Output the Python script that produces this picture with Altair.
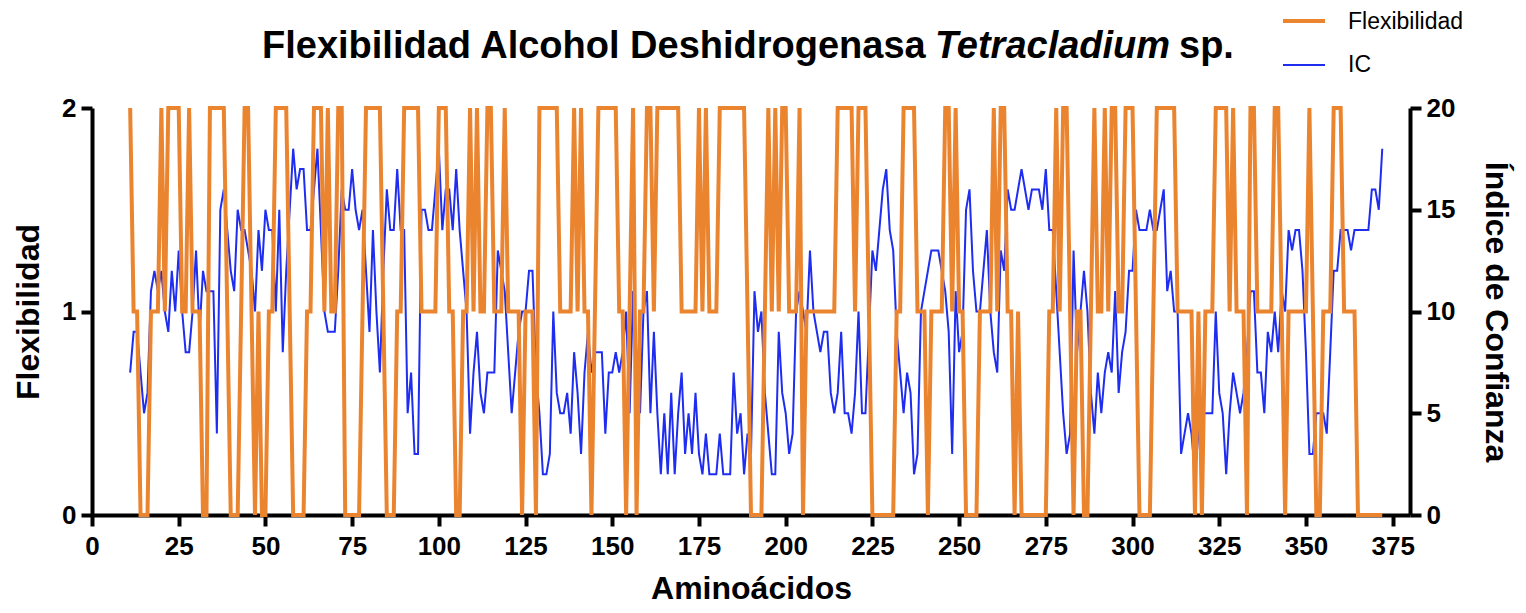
import altair as alt
import pandas as pd

# Amino-acid positions 11..372
aminoacidos = list(range(11, 373))

flexibilidad = [
    2, 1, 1, 0, 0, 0, 1, 1, 1, 2,
    1, 2, 2, 2, 2, 1, 1, 2, 1, 1,
    1, 0, 0, 2, 2, 2, 2, 2, 1, 0,
    0, 0, 1, 2, 2, 1, 0, 1, 0, 0,
    1, 1, 2, 2, 2, 2, 1, 0, 0, 0,
    0, 1, 1, 2, 2, 2, 1, 2, 1, 1,
    2, 2, 0, 0, 0, 0, 0, 1, 2, 2,
    2, 2, 2, 1, 0, 0, 0, 1, 1, 2,
    2, 2, 2, 2, 1, 1, 1, 1, 1, 2,
    2, 2, 1, 1, 0, 0, 1, 1, 2, 1,
    2, 1, 1, 2, 2, 1, 1, 1, 2, 1,
    1, 1, 1, 0, 1, 1, 1, 0, 2, 2,
    2, 2, 2, 2, 1, 1, 1, 1, 2, 1,
    2, 1, 1, 0, 1, 2, 2, 2, 2, 2,
    2, 1, 1, 0, 1, 2, 0, 1, 1, 2,
    2, 1, 2, 2, 2, 2, 2, 2, 2, 1,
    1, 1, 1, 1, 2, 1, 2, 1, 1, 1,
    2, 2, 2, 2, 2, 2, 2, 2, 1, 0,
    0, 0, 0, 1, 2, 1, 2, 1, 2, 2,
    1, 1, 1, 2, 0, 1, 1, 1, 1, 1,
    1, 1, 1, 1, 2, 2, 2, 2, 2, 1,
    2, 2, 2, 1, 0, 0, 0, 0, 0, 0,
    0, 1, 1, 2, 2, 2, 2, 1, 1, 1,
    0, 1, 1, 1, 1, 2, 2, 1, 2, 1,
    1, 0, 0, 0, 0, 1, 1, 1, 1, 2,
    1, 2, 2, 1, 1, 0, 1, 0, 0, 0,
    0, 0, 0, 0, 0, 1, 1, 2, 1, 2,
    2, 1, 0, 1, 1, 0, 0, 1, 2, 1,
    1, 2, 1, 2, 2, 1, 1, 2, 2, 2,
    1, 0, 0, 0, 0, 1, 2, 2, 2, 2,
    2, 2, 1, 1, 1, 1, 1, 0, 1, 0,
    1, 1, 1, 2, 2, 2, 2, 1, 2, 1,
    1, 1, 0, 2, 2, 1, 1, 1, 1, 1,
    2, 2, 1, 0, 1, 1, 1, 1, 1, 1,
    2, 1, 0, 0, 1, 1, 1, 2, 2, 2,
    1, 1, 1, 1, 0, 0, 0, 0, 0, 0,
    0, 0,
]

indice_confianza = [
    7, 9, 9, 7, 5, 6, 11, 12, 11, 12,
    10, 9, 12, 10, 13, 10, 8, 8, 10, 13,
    9, 12, 11, 11, 11, 4, 15, 16, 14, 12,
    11, 15, 14, 14, 13, 12, 10, 14, 12, 15,
    14, 14, 10, 15, 8, 12, 15, 18, 16, 17,
    17, 14, 14, 16, 18, 14, 10, 9, 9, 9,
    12, 16, 15, 15, 17, 15, 14, 15, 12, 9,
    14, 10, 7, 12, 16, 14, 14, 17, 14, 14,
    5, 7, 3, 3, 15, 15, 14, 14, 16, 18,
    14, 16, 16, 14, 17, 14, 12, 10, 4, 7,
    9, 6, 5, 7, 7, 7, 13, 12, 11, 8,
    5, 7, 9, 10, 10, 12, 12, 7, 5, 2,
    2, 3, 10, 6, 5, 5, 6, 4, 8, 6,
    3, 7, 9, 7, 8, 8, 8, 4, 7, 7,
    8, 7, 8, 10, 5, 11, 8, 5, 10, 11,
    5, 9, 5, 2, 5, 2, 6, 2, 5, 7,
    3, 5, 3, 6, 3, 2, 4, 2, 2, 2,
    4, 2, 2, 2, 7, 4, 5, 2, 4, 3,
    11, 9, 10, 6, 4, 2, 2, 9, 6, 5,
    3, 4, 10, 11, 10, 9, 13, 10, 9, 8,
    9, 9, 6, 5, 6, 9, 5, 5, 4, 6,
    10, 5, 5, 9, 13, 12, 14, 16, 17, 14,
    13, 9, 7, 5, 7, 6, 2, 3, 10, 11,
    12, 13, 13, 13, 12, 11, 9, 3, 11, 8,
    9, 15, 16, 12, 10, 10, 12, 14, 10, 8,
    7, 13, 12, 16, 15, 15, 16, 17, 16, 15,
    16, 16, 16, 15, 17, 14, 14, 11, 8, 5,
    3, 4, 13, 8, 10, 12, 10, 6, 4, 7,
    5, 7, 8, 7, 11, 6, 8, 9, 12, 12,
    15, 14, 14, 14, 15, 14, 14, 15, 16, 11,
    12, 10, 10, 3, 4, 5, 4, 2, 4, 5,
    5, 5, 5, 10, 6, 5, 2, 5, 7, 6,
    5, 6, 8, 11, 11, 7, 7, 5, 9, 8,
    10, 8, 11, 10, 14, 13, 14, 14, 12, 8,
    3, 3, 5, 5, 5, 4, 8, 12, 12, 14,
    14, 14, 13, 14, 14, 14, 14, 14, 16, 16,
    15, 18,
]

x_ticks = list(range(0, 376, 25))
left_ticks = [0, 1, 2]
right_ticks = [0, 5, 10, 15, 20]

title_parts = ["Flexibilidad Alcohol Deshidrogenasa", "Tetracladium", "sp."]
legend_labels = ["Flexibilidad", "IC"]

ORANGE = "#EB842F"
BLUE = "#1E2DF0"
FONT = "Liberation Sans"

df = pd.DataFrame({"aa": aminoacidos, "flex": flexibilidad, "ic": indice_confianza})

W, H = 1318, 407

x_enc = alt.X(
    "aa:Q",
    scale=alt.Scale(domain=[0, 380], nice=False, zero=False),
    axis=alt.Axis(values=x_ticks, title="Aminoácidos", titlePadding=14, labelPadding=7,
                  labelFlush=False, format=".0f"),
)

blue = alt.Chart(df).mark_line(color=BLUE, strokeWidth=2).encode(
    x=x_enc,
    y=alt.Y("ic:Q", scale=alt.Scale(domain=[0, 20], nice=False),
            axis=alt.Axis(orient="right", values=right_ticks, title="Índice de Confianza",
                          titlePadding=24, labelPadding=5, format=".0f", labelOverlap=False)),
)

orange = alt.Chart(df).mark_line(color=ORANGE, strokeWidth=4).encode(
    x=x_enc,
    y=alt.Y("flex:Q", scale=alt.Scale(domain=[0, 2], nice=False),
            axis=alt.Axis(orient="left", values=left_ticks, title="Flexibilidad",
                          titlePadding=16, labelPadding=5, format=".0f", labelOverlap=False)),
)

TS = 38
TY = -50
tdf = pd.DataFrame({"t": [0]})
t1 = alt.Chart(tdf).mark_text(text=title_parts[0], font=FONT, fontSize=TS, fontWeight="bold",
                              align="left", baseline="alphabetic", color="black").encode(
    x=alt.value(170), y=alt.value(TY))
t2 = alt.Chart(tdf).mark_text(text=title_parts[1], font=FONT, fontSize=TS, fontWeight="bold",
                              fontStyle="italic", align="left", baseline="alphabetic",
                              color="black").encode(x=alt.value(843), y=alt.value(TY))
t3 = alt.Chart(tdf).mark_text(text=title_parts[2], font=FONT, fontSize=TS, fontWeight="bold",
                              align="left", baseline="alphabetic", color="black").encode(
    x=alt.value(1087), y=alt.value(TY))

leg_o = alt.Chart(tdf).mark_rule(color=ORANGE, strokeWidth=4).encode(
    x=alt.value(1191), x2=alt.value(1233), y=alt.value(-87))
leg_b = alt.Chart(tdf).mark_rule(color=BLUE, strokeWidth=2).encode(
    x=alt.value(1191), x2=alt.value(1233), y=alt.value(-43))
leg_t1 = alt.Chart(tdf).mark_text(text=legend_labels[0], font=FONT, fontSize=23, align="left",
                                  baseline="middle", color="black").encode(
    x=alt.value(1256), y=alt.value(-86))
leg_t2 = alt.Chart(tdf).mark_text(text=legend_labels[1], font=FONT, fontSize=23, align="left",
                                  baseline="middle", color="black").encode(
    x=alt.value(1256), y=alt.value(-43))

chart = alt.layer(blue, orange, t1, t2, t3, leg_o, leg_b, leg_t1, leg_t2).resolve_scale(
    y="independent"
).properties(
    width=W, height=H,
    autosize=alt.AutoSizeParams(type="none"),
    padding={"left": 84, "top": 100, "right": 108, "bottom": 90},
).configure_view(stroke=None).configure_axis(
    grid=False,
    domainColor="black", domainWidth=4,
    tickColor="black", tickWidth=4, tickSize=11,
    labelFont=FONT, labelFontSize=26, labelFontWeight="bold", labelColor="black",
    titleFont=FONT, titleFontSize=32, titleFontWeight="bold", titleColor="black",
)

chart.save("out.html", embed_options={"renderer": "svg", "actions": False})
